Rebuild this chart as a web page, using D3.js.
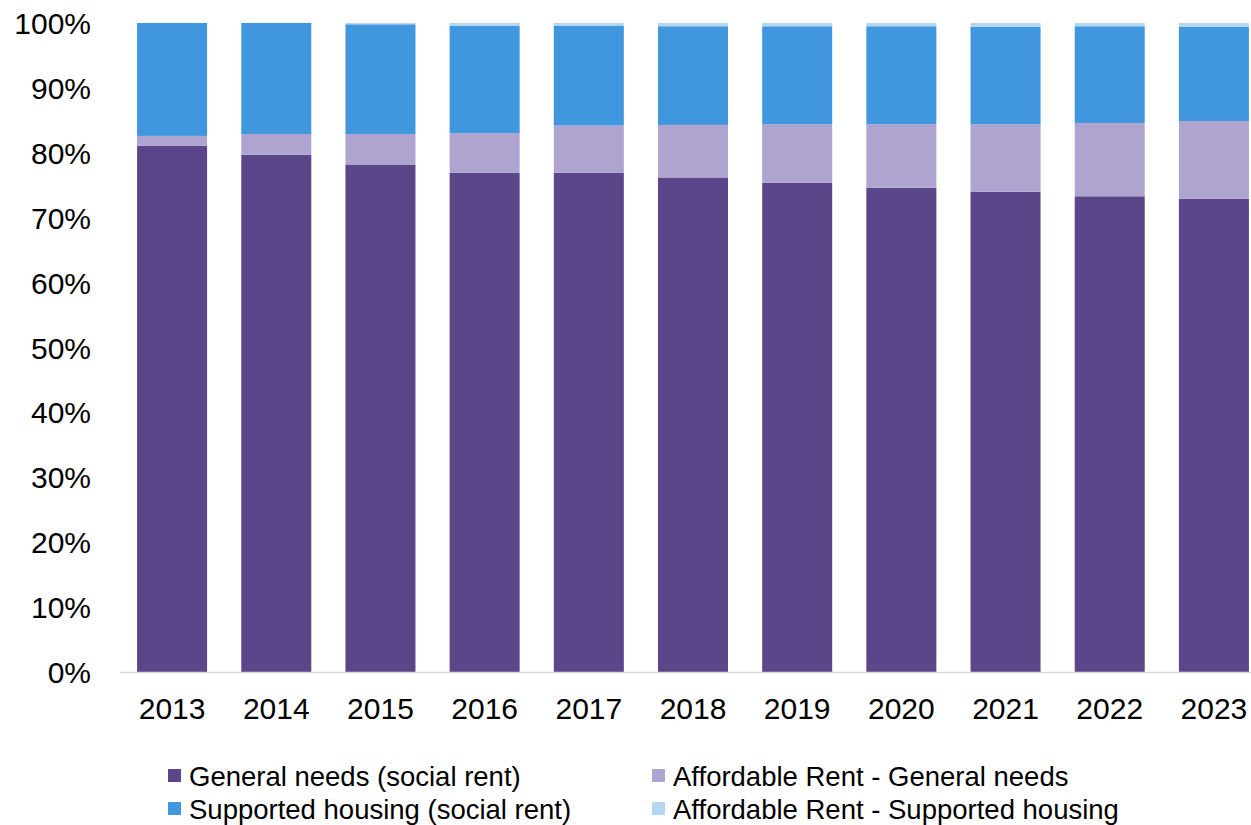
<!DOCTYPE html>
<html>
<head>
<meta charset="utf-8">
<script src="https://cdn.jsdelivr.net/npm/d3@7"></script>
<style>
  html, body { margin: 0; padding: 0; background: #ffffff; }
  svg { display: block; font-family: "Liberation Sans", Arial, sans-serif; }
</style>
</head>
<body>
<svg id="chart" width="1251" height="825"></svg>
<script>
// Share of stock by tenure type, per year (percent of total)
const years = ["2013", "2014", "2015", "2016", "2017", "2018", "2019", "2020", "2021", "2022", "2023"];
const generalNeedsSocial   = [81.1, 79.7, 78.2, 76.9, 76.9, 76.2, 75.4, 74.6, 74.0, 73.3, 72.9];
const affordableGeneral    = [1.5, 3.2, 4.7, 6.1, 7.3, 8.1, 9.0, 9.8, 10.4, 11.3, 12.0];
const supportedSocial      = [17.4, 17.1, 16.9, 16.6, 15.4, 15.2, 15.1, 15.1, 15.0, 14.9, 14.5];
const affordableSupported  = [0.0, 0.0, 0.2, 0.4, 0.4, 0.5, 0.5, 0.5, 0.6, 0.5, 0.6];

const seriesNames = [
  "General needs (social rent)",
  "Affordable Rent - General needs",
  "Supported housing (social rent)",
  "Affordable Rent - Supported housing"
];
const seriesColors = ["#5b468a", "#afa3d0", "#4097dd", "#b4d6f0"];
const yTicks = [0, 10, 20, 30, 40, 50, 60, 70, 80, 90, 100];

const rows = years.map((yr, i) => ({
  year: yr,
  s0: generalNeedsSocial[i],
  s1: affordableGeneral[i],
  s2: supportedSocial[i],
  s3: affordableSupported[i]
}));
const keys = ["s0", "s1", "s2", "s3"];
const stacked = d3.stack().keys(keys)(rows);

const svg = d3.select("#chart");

const x = d3.scaleBand()
  .domain(years)
  .range([120, 1266])
  .paddingInner(0.328)
  .paddingOuter(0.164);

const y = d3.scaleLinear().domain([0, 100]).range([672, 23]);

// Stacked bars
svg.append("g")
  .selectAll("g")
  .data(stacked)
  .join("g")
  .attr("fill", (d, i) => seriesColors[i])
  .selectAll("rect")
  .data(d => d)
  .join("rect")
  .attr("x", d => x(d.data.year))
  .attr("width", x.bandwidth())
  .attr("y", d => y(d[1]))
  .attr("height", d => Math.max(0, y(d[0]) - y(d[1])));

// Y axis labels
const yAxis = d3.axisLeft(y)
  .tickValues(yTicks)
  .tickFormat(d => d + "%")
  .tickSize(0)
  .tickPadding(0);
const gy = svg.append("g").attr("transform", "translate(91,0)").call(yAxis);
gy.select(".domain").remove();
gy.selectAll("text")
  .attr("font-size", 30)
  .attr("font-family", "Liberation Sans, Arial, sans-serif")
  .attr("fill", "#000")
  .attr("dy", "0.35em");

// X axis baseline and year labels
const xAxis = d3.axisBottom(x).tickSize(0).tickPadding(0);
const gx = svg.append("g").attr("transform", "translate(0,672)").call(xAxis);
gx.select(".domain").remove();
gx.selectAll("text")
  .attr("font-size", 30)
  .attr("font-family", "Liberation Sans, Arial, sans-serif")
  .attr("fill", "#000")
  .attr("y", 47)
  .attr("dy", 0);
svg.append("line")
  .attr("x1", 120).attr("x2", 1251)
  .attr("y1", 672.5).attr("y2", 672.5)
  .attr("stroke", "#d9d9d9")
  .attr("stroke-width", 1.5);

// Legend, two columns by two rows
const legendPos = [
  { sx: 168, ty: 786 },
  { sx: 652, ty: 786 },
  { sx: 168, ty: 819 },
  { sx: 652, ty: 819 }
];
const legend = svg.append("g")
  .selectAll("g")
  .data(seriesNames)
  .join("g");
legend.append("rect")
  .attr("x", (d, i) => legendPos[i].sx)
  .attr("y", (d, i) => legendPos[i].ty - 17)
  .attr("width", 13)
  .attr("height", 13)
  .attr("fill", (d, i) => seriesColors[i]);
legend.append("text")
  .attr("x", (d, i) => legendPos[i].sx + 21)
  .attr("y", (d, i) => legendPos[i].ty)
  .attr("font-size", 27.5)
  .attr("fill", "#000")
  .text(d => d);
</script>
</body>
</html>
